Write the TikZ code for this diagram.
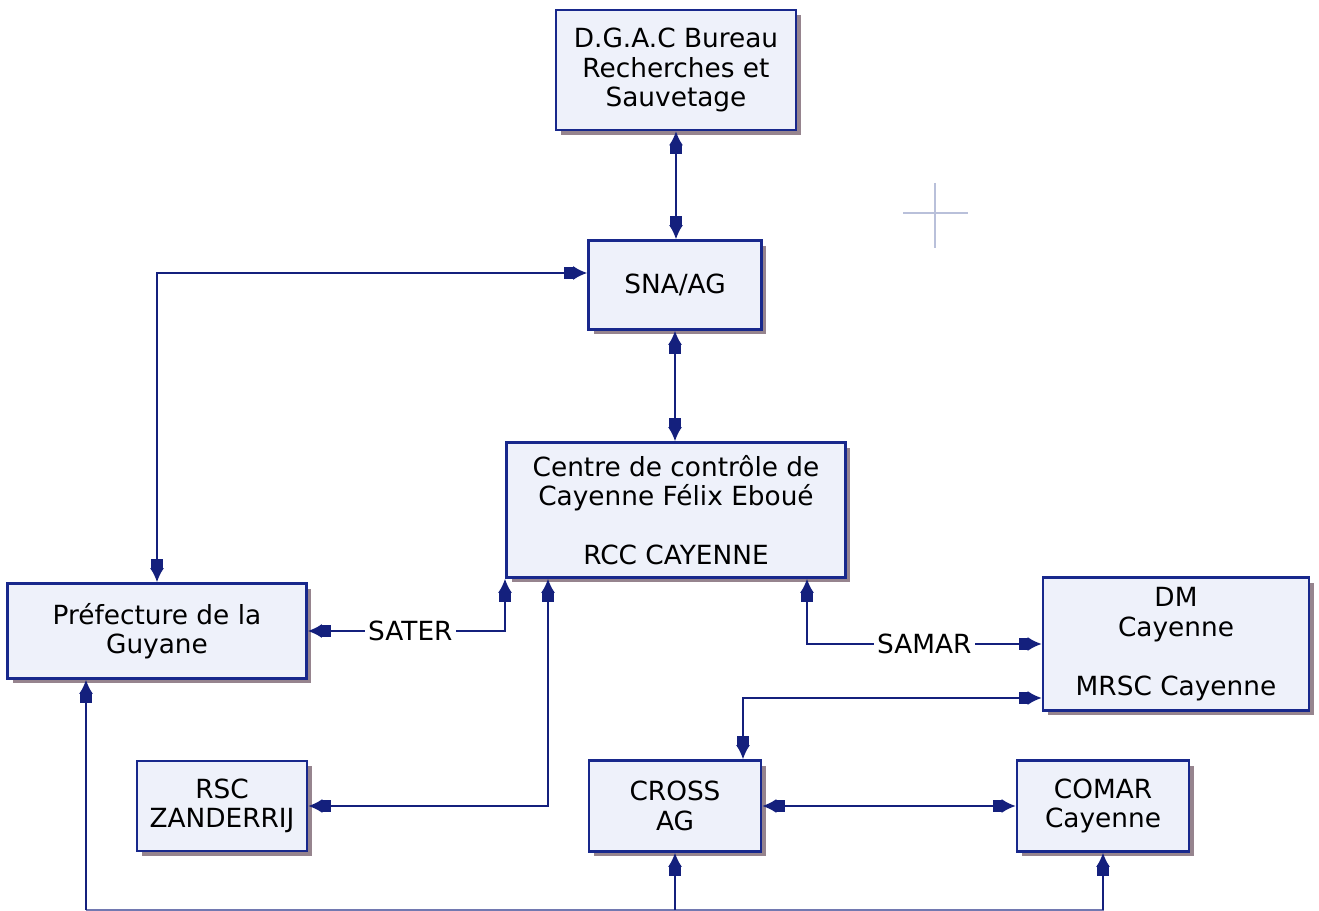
\documentclass[tikz,border=0pt]{standalone}
\usepackage{fontspec}
\setmainfont{DejaVu Sans}
\usepackage{tikz}
\usetikzlibrary{arrows.meta,calc,shadows}
\definecolor{boxnavy}{RGB}{24,40,140}
\definecolor{linknavy}{RGB}{20,32,125}
\definecolor{boxfill}{RGB}{238,241,250}
\definecolor{shadowmauve}{RGB}{150,132,142}
\definecolor{crossgrey}{RGB}{185,192,218}
\tikzset{
  orgbox/.style={rectangle, draw=boxnavy, line width=1.5pt, fill=boxfill,
                 align=center, inner sep=0pt,
                 font=\fontsize{15}{16.8}\selectfont,
                 drop shadow={shadow xshift=0.1cm, shadow yshift=-0.1cm,
                              fill=shadowmauve, opacity=1}},
  link/.style={draw=linknavy, line width=1.1pt,
               {Latex[length=8pt,width=8pt]Rectangle[length=5pt,width=7pt]}-{Rectangle[length=5pt,width=7pt]Latex[length=8pt,width=8pt]}},
  uplink/.style={draw=linknavy, line width=1.1pt,
                 -{Rectangle[length=5pt,width=7pt]Latex[length=8pt,width=8pt]}},
  buslink/.style={draw=linknavy!60, line width=0.8pt},
  linklabel/.style={fill=white, inner sep=2pt, font=\fontsize{15}{16.8}\selectfont},
  crossmark/.style={draw=crossgrey, line width=0.6pt},
}
\begin{document}
\begin{tikzpicture}[x=0.02cm, y=-0.02cm]
  \useasboundingbox (0,0) rectangle (1319,911);

  % boxes
  \node[orgbox, minimum width=4.8cm, minimum height=2.4cm] (dgac) at (676,70)
    {D.G.A.C Bureau\\Recherches et\\Sauvetage};
  \node[orgbox, minimum width=3.46cm, minimum height=1.78cm] (sna) at (675,285) {SNA/AG};
  \node[orgbox, minimum width=6.78cm, minimum height=2.7cm] (rcc) at (676,510)
    {Centre de contrôle de\\Cayenne Félix Eboué\\[16.8pt]RCC CAYENNE};
  \node[orgbox, minimum width=5.98cm, minimum height=1.9cm] (pref) at (157,631)
    {Préfecture de la\\Guyane};
  \node[orgbox, minimum width=5.32cm, minimum height=2.66cm] (dm) at (1176,644)
    {DM\\Cayenne\\[16.8pt]MRSC Cayenne};
  \node[orgbox, minimum width=3.4cm, minimum height=1.8cm] (rsc) at (222,806) {RSC\\ZANDERRIJ};
  \node[orgbox, minimum width=3.44cm, minimum height=1.82cm] (cross) at (675,806) {CROSS\\AG};
  \node[orgbox, minimum width=3.44cm, minimum height=1.82cm] (comar) at (1103,806) {COMAR\\Cayenne};

  % links
  \draw[link] (dgac.south) -- (dgac.south |- sna.north);
  \draw[link] (sna.south) -- (sna.south |- rcc.north);
  \draw[link] ($(sna.west)+(0,-12)$) -| (pref.north);
  \draw[link] ($(rcc.south)+(-171,0)$) |- node[linklabel, pos=0.74] {SATER} (pref.east);
  \draw[link] ($(rcc.south)+(-128,0)$) |- (rsc.east);
  \draw[link] ($(rcc.south)+(131,0)$) |- node[linklabel, pos=0.75] {SAMAR} (dm.west);
  \draw[link] ($(dm.west)+(0,54)$) -| ($(cross.north)+(68,0)$);
  \draw[link] (cross.east) -- (comar.west);

  % bottom bus
  \coordinate (busL) at (86,910);
  \coordinate (busR) at (1104,910);
  \draw[buslink] (busL) -- (busR);
  \draw[uplink] (busL) -- (busL |- pref.south);
  \draw[uplink] (cross.south |- busL) -- (cross.south);
  \draw[uplink] (comar.south |- busL) -- (comar.south);

  % faint cross mark
  \draw[crossmark] (903,213) -- (968,213) (935,183) -- (935,248);
\end{tikzpicture}
\end{document}
